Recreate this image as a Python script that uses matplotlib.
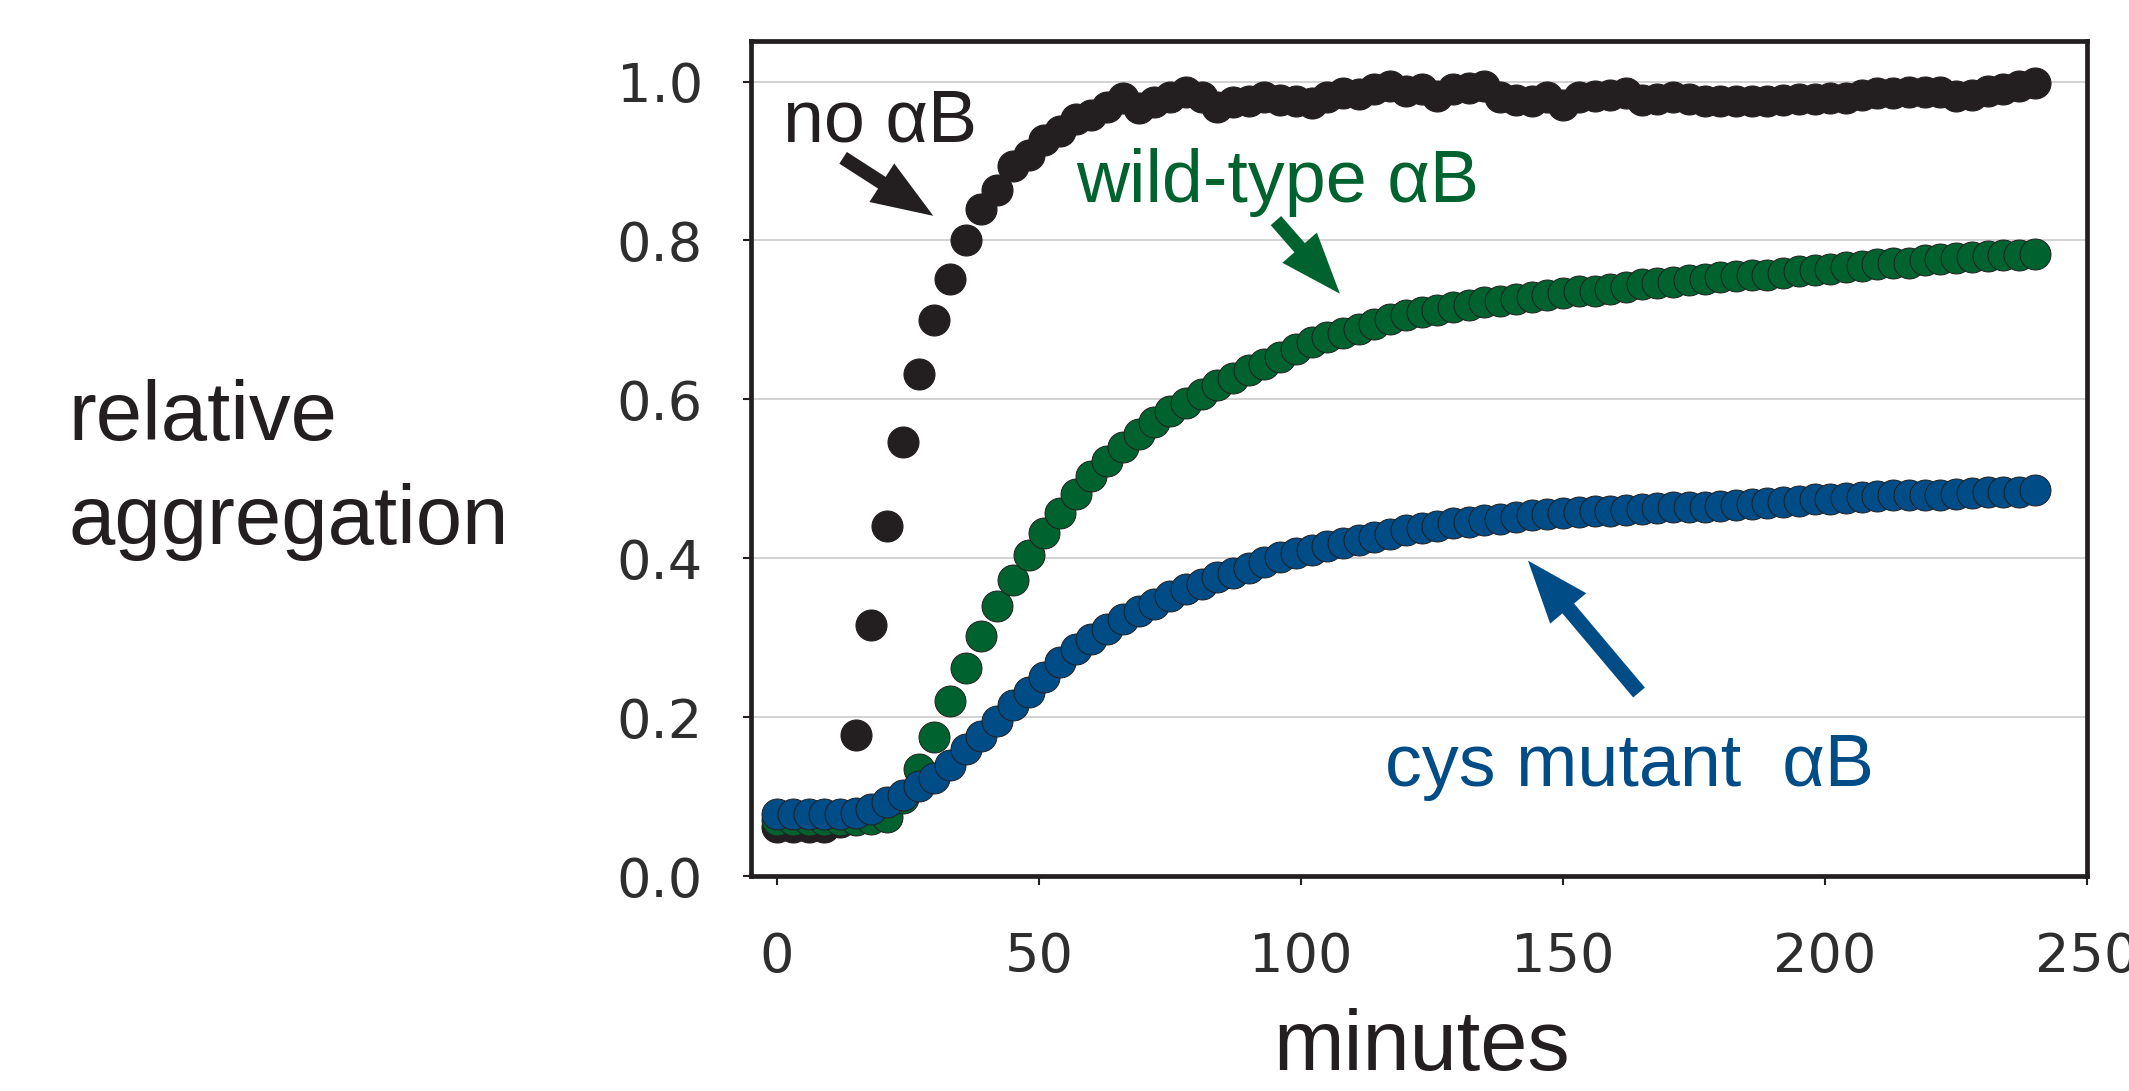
import matplotlib.pyplot as plt
import numpy as np

# sampling every 3 minutes, 0..240
minutes = np.arange(0, 241, 3)

no_ab = [0.062, 0.062, 0.062, 0.062, 0.068, 0.178, 0.316, 0.440, 0.546, 0.632,
         0.700, 0.751, 0.800, 0.839, 0.863, 0.894, 0.908, 0.926, 0.938, 0.953,
         0.958, 0.968, 0.979, 0.967, 0.974, 0.981, 0.987, 0.981, 0.968, 0.974,
         0.975, 0.981, 0.977, 0.975, 0.973, 0.980, 0.986, 0.984, 0.990, 0.995,
         0.988, 0.990, 0.982, 0.990, 0.992, 0.995, 0.981, 0.977, 0.975, 0.980,
         0.970, 0.980, 0.982, 0.983, 0.985, 0.977, 0.978, 0.980, 0.978, 0.976,
         0.975, 0.975, 0.975, 0.976, 0.977, 0.978, 0.978, 0.979, 0.979, 0.983,
         0.986, 0.986, 0.987, 0.987, 0.987, 0.982, 0.983, 0.988, 0.991, 0.995,
         0.998]

wild_type = [0.070, 0.070, 0.070, 0.070, 0.070, 0.071, 0.072, 0.074, 0.098, 0.135,
             0.175, 0.220, 0.262, 0.302, 0.340, 0.373, 0.404, 0.432, 0.457, 0.481,
             0.503, 0.523, 0.540, 0.557, 0.571, 0.585, 0.596, 0.607, 0.618, 0.627,
             0.637, 0.645, 0.653, 0.664, 0.672, 0.678, 0.683, 0.689, 0.695, 0.701,
             0.706, 0.710, 0.713, 0.716, 0.719, 0.722, 0.724, 0.726, 0.729, 0.731,
             0.734, 0.736, 0.737, 0.739, 0.742, 0.745, 0.746, 0.748, 0.750, 0.752,
             0.754, 0.755, 0.756, 0.757, 0.759, 0.761, 0.763, 0.764, 0.766, 0.768,
             0.770, 0.772, 0.772, 0.775, 0.777, 0.778, 0.779, 0.780, 0.782, 0.782,
             0.783]

cys_mutant = [0.078, 0.078, 0.078, 0.078, 0.078, 0.079, 0.084, 0.093, 0.102, 0.113,
              0.124, 0.140, 0.160, 0.176, 0.195, 0.215, 0.232, 0.250, 0.269, 0.286,
              0.298, 0.311, 0.323, 0.334, 0.343, 0.353, 0.361, 0.368, 0.376, 0.382,
              0.388, 0.395, 0.401, 0.407, 0.411, 0.415, 0.419, 0.423, 0.427, 0.431,
              0.435, 0.438, 0.441, 0.444, 0.446, 0.448, 0.450, 0.452, 0.454, 0.456,
              0.457, 0.458, 0.459, 0.460, 0.461, 0.462, 0.463, 0.464, 0.465, 0.465,
              0.466, 0.467, 0.468, 0.469, 0.471, 0.472, 0.474, 0.475, 0.476, 0.477,
              0.478, 0.479, 0.479, 0.480, 0.480, 0.481, 0.482, 0.483, 0.484, 0.484,
              0.486]

x_ticks = [0, 50, 100, 150, 200, 250]
y_ticks = [0.0, 0.2, 0.4, 0.6, 0.8, 1.0]

ink = '#231f20'
green = '#00632f'
blue = '#004c86'
sans = 'Liberation Sans'

fig = plt.figure(figsize=(21.29, 10.91), dpi=100)
ax = fig.add_axes([0.3527, 0.197, 0.6276, 0.7654])
ax.set_xlim(-5, 250)
ax.set_ylim(0, 1.051)

ax.yaxis.grid(True, color='#cfcfcf', lw=1.3)
ax.set_axisbelow(True)

ms = 22.3
ax.plot(minutes, no_ab, 'o', ms=ms, mfc=ink, mec=ink, mew=0.8, zorder=3)
ax.plot(minutes, wild_type, 'o', ms=ms, mfc=green, mec=ink, mew=0.7, zorder=4)
ax.plot(minutes, cys_mutant, 'o', ms=ms, mfc=blue, mec=ink, mew=0.7, zorder=5)

for s in ax.spines.values():
    s.set_color(ink)
    s.set_linewidth(3.4)

ax.set_xticks(x_ticks)
ax.set_xticklabels([str(v) for v in x_ticks])
ax.set_yticks(y_ticks)
ax.set_yticklabels(['%.1f' % v for v in y_ticks])
ax.tick_params(axis='x', direction='out', length=6.5, width=1.5, color=ink,
               labelsize=39, labelcolor='#2e2e2e', pad=33)
ax.tick_params(axis='y', direction='out', length=5.8, width=1.5, color=ink,
               labelsize=39, labelcolor='#2e2e2e', pad=28.8)

# series labels and arrows
ax.text(1.1, 0.925, 'no αB', fontsize=53, color=ink, family=sans, va='baseline')
ax.annotate('', xy=(29.8, 0.831), xytext=(12.6, 0.904),
            arrowprops=dict(facecolor=ink, edgecolor='none', width=10,
                            headwidth=33, headlength=44, shrink=0))

ax.text(57.0, 0.848, 'wild-type αB', fontsize=53, color=green, family=sans,
        va='baseline')
ax.annotate('', xy=(107.4, 0.733), xytext=(95.2, 0.825),
            arrowprops=dict(facecolor=green, edgecolor='none', width=10,
                            headwidth=33, headlength=44, shrink=0))

ax.text(116, 0.113, 'cys mutant  αB', fontsize=53, color=blue, family=sans,
        va='baseline')
ax.annotate('', xy=(143.3, 0.397), xytext=(164.5, 0.231),
            arrowprops=dict(facecolor=blue, edgecolor='none', width=11,
                            headwidth=34, headlength=45, shrink=0))

# axis titles
fig.text(68 / 2129, 1 - 440 / 1091, 'relative', fontsize=60, color=ink,
         family=sans, va='baseline')
fig.text(68 / 2129, 1 - 544 / 1091, 'aggregation', fontsize=60, color=ink,
         family=sans, va='baseline')
fig.text(1422 / 2129, 1 - 1070 / 1091, 'minutes', fontsize=61, color=ink,
         family=sans, ha='center', va='baseline')

fig.savefig('out.png', dpi=100)
